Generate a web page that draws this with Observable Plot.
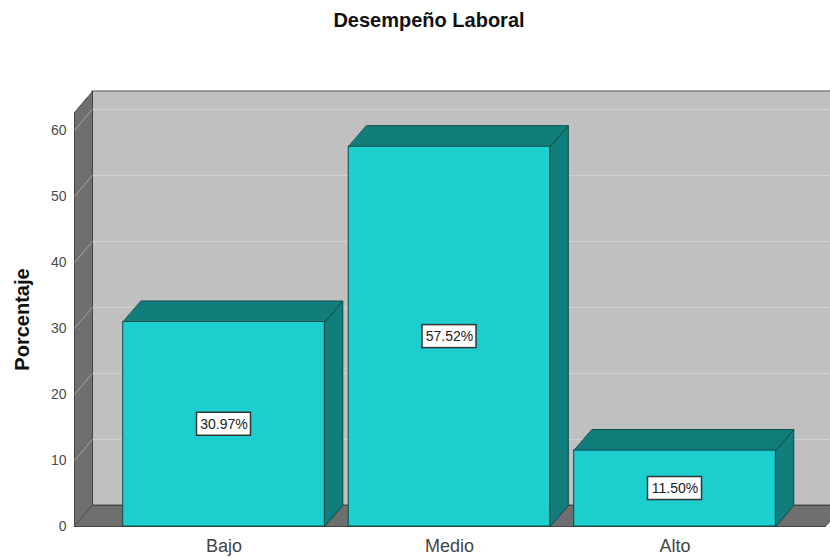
<!DOCTYPE html>
<html>
<head>
<meta charset="utf-8">
<script src="https://cdn.jsdelivr.net/npm/d3@7"></script>
<script src="https://cdn.jsdelivr.net/npm/@observablehq/plot@0.6"></script>
<style>
  body { margin: 0; background: #fff; overflow: hidden; font-family: "Liberation Sans", Arial, sans-serif; }
  #chart { position: relative; width: 830px; height: 558px; }
  #title { position: absolute; left: 0; top: 9px; width: 830px; padding-left: 28px; box-sizing: border-box;
           text-align: center; font-weight: bold; font-size: 20px; color: #111; }
  #chart svg { position: absolute; left: 0; top: 0; overflow: hidden; }
</style>
</head>
<body>
<div id="chart"><div id="title">Desempeño Laboral</div></div>
<script>
// Desempeño Laboral — percentage per level
const categories = ["Bajo", "Medio", "Alto"];
const percentages = [30.97, 57.52, 11.50];
const yTicks = [0, 10, 20, 30, 40, 50, 60];

// 3-D box geometry, in scale units
const xLeft = -0.663;          // front-left edge of the box
const xRight = 2.667;          // front-right edge of the box
const yTop = 62.7;             // front top of the box
const DX = 18 / 225.5;         // depth offset along x
const DY = 21 / 6.6;           // depth offset along y
const HW = 0.447;              // half width of a bar

const front = "#1ccfce", shade = "#127e7c", edge = "#0c4b4a";

const poly = (pts, id) => pts.map(([x, y]) => ({x, y, id}));

const leftWall = poly([[xLeft, 0], [xLeft, yTop], [xLeft + DX, yTop + DY], [xLeft + DX, DY]], "lw");
const floor = poly([[xLeft, 0], [xRight, 0], [xRight + DX, DY], [xLeft + DX, DY]], "fl");

const rows = categories.map((c, i) => ({cat: c, i, v: percentages[i]}));
const tops = rows.flatMap(d => poly([
  [d.i - HW, d.v], [d.i + HW, d.v], [d.i + HW + DX, d.v + DY], [d.i - HW + DX, d.v + DY]
], "t" + d.i));
const sides = rows.flatMap(d => poly([
  [d.i + HW, 0], [d.i + HW + DX, DY], [d.i + HW + DX, d.v + DY], [d.i + HW, d.v]
], "s" + d.i));
const wallGrid = yTicks.flatMap(t => poly([[xLeft, t], [xLeft + DX, t + DY]], "g" + t));

const chart = Plot.plot({
  width: 830,
  height: 558,
  marginLeft: 74,
  marginRight: 0,
  marginTop: 91,
  marginBottom: 32,
  style: {fontFamily: "'Liberation Sans', Arial, sans-serif", background: "transparent"},
  x: {domain: [xLeft, 2.6896], axis: null},
  y: {domain: [0, yTop + DY], axis: null},
  marks: [
    // back wall
    Plot.rect([0], {x1: xLeft + DX, x2: xRight + DX, y1: DY, y2: yTop + DY, fill: "#c0c0c0", stroke: "#555", strokeWidth: 1}),
    Plot.ruleY(yTicks.slice(1), {y: t => t + DY, x1: xLeft + DX, x2: xRight + DX, stroke: "#d2d2d2", strokeWidth: 1}),
    // left wall and floor
    Plot.line(leftWall, {x: "x", y: "y", z: "id", curve: "linear-closed", fill: "#6f6f6f", stroke: "#444", strokeWidth: 1}),
    Plot.line(wallGrid, {x: "x", y: "y", z: "id", stroke: "#a4a4a4", strokeWidth: 1}),
    Plot.line(floor, {x: "x", y: "y", z: "id", curve: "linear-closed", fill: "#6f6f6f", stroke: "#444", strokeWidth: 1}),
    // bars
    Plot.line(sides, {x: "x", y: "y", z: "id", curve: "linear-closed", fill: shade, stroke: edge, strokeWidth: 1}),
    Plot.line(tops, {x: "x", y: "y", z: "id", curve: "linear-closed", fill: shade, stroke: edge, strokeWidth: 1}),
    Plot.rect(rows, {x1: d => d.i - HW, x2: d => d.i + HW, y1: 0, y2: "v", fill: front, stroke: edge, strokeWidth: 1}),
    // value labels
    Plot.rect(rows, {x1: "i", x2: "i", y1: d => d.v / 2, y2: d => d.v / 2,
      insetLeft: -27, insetRight: -27, insetTop: -11.5, insetBottom: -11.5,
      fill: "white", stroke: "#333", strokeWidth: 1.5}),
    Plot.text(rows, {x: "i", y: d => d.v / 2, text: d => d.v.toFixed(2) + "%", fontSize: 14, fill: "#222"}),
    // axes
    Plot.axisY(yTicks, {tickSize: 0, tickPadding: 8, fontSize: 14, color: "#4a4a4a", label: null}),
    Plot.text(["Porcentaje"], {frameAnchor: "left", textAnchor: "middle", y: yTop / 2, dx: -52, rotate: -90,
      fontSize: 20, fontWeight: "bold", fill: "#111"}),
    Plot.text(rows, {x: "i", y: 0, text: "cat", dy: 20, fontSize: 18, fill: "#444"})
  ]
});
document.getElementById("chart").prepend(chart);
</script>
</body>
</html>
